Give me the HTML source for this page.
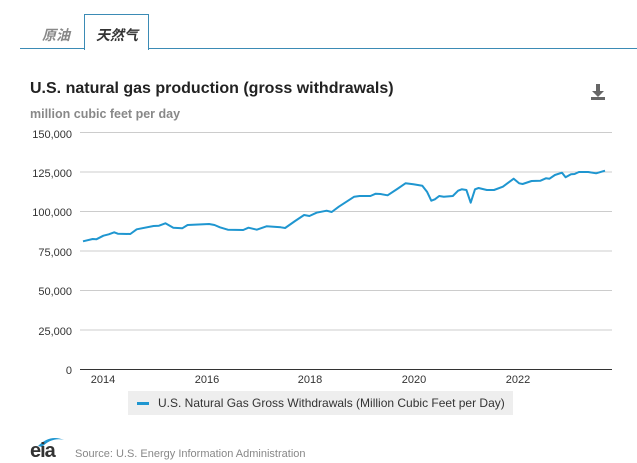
<!DOCTYPE html>
<html><head><meta charset="utf-8"><style>
body{margin:0;width:637px;height:462px;background:#fff;font-family:"Liberation Sans","Noto Sans CJK SC",sans-serif;position:relative;overflow:hidden}
.a{position:absolute;white-space:nowrap}
</style></head><body>
<div class="a" style="left:20px;top:48px;width:617px;height:1px;background:#3b8bb5"></div>
<div class="a" style="left:84px;top:14px;width:63px;height:35px;border:1px solid #3b8bb5;border-bottom:none;background:#fff"></div>
<div class="a" style="left:42px;top:25px;font-size:14px;font-style:italic;font-weight:bold;color:#888">原油</div>
<div class="a" style="left:96px;top:25px;font-size:14px;font-style:italic;font-weight:bold;color:#333">天然气</div>
<div class="a" style="left:30px;top:80px;font-size:16px;font-weight:bold;color:#222">U.S. natural gas production (gross withdrawals)</div>
<div class="a" style="left:30px;top:107px;font-size:12.5px;font-weight:bold;color:#888">million cubic feet per day</div>
<svg class="a" style="left:588px;top:83px" width="22" height="20"><rect x="8" y="1" width="4" height="8" fill="#666"/><polygon points="4,8 16,8 10,14" fill="#666"/><rect x="3" y="14" width="14" height="3" fill="#666"/></svg>
<svg class="a" style="left:0;top:0" width="637" height="462">
<g stroke="#ccc" stroke-width="1">
<line x1="80" x2="612" y1="132.5" y2="132.5"/><line x1="80" x2="612" y1="172" y2="172"/><line x1="80" x2="612" y1="211.5" y2="211.5"/><line x1="80" x2="612" y1="251" y2="251"/><line x1="80" x2="612" y1="290.5" y2="290.5"/><line x1="80" x2="612" y1="330" y2="330"/></g>
<line x1="80" x2="612" y1="369.5" y2="369.5" stroke="#333"/>
<g font-size="11" fill="#333" text-anchor="end" font-family="Liberation Sans">
<text x="72" y="138">150,000</text><text x="72" y="177">125,000</text><text x="72" y="216">100,000</text><text x="72" y="256">75,000</text><text x="72" y="295">50,000</text><text x="72" y="335">25,000</text><text x="72" y="374">0</text></g>
<g font-size="11" fill="#333" text-anchor="middle" font-family="Liberation Sans">
<text x="103" y="383">2014</text><text x="207" y="383">2016</text><text x="310" y="383">2018</text><text x="414" y="383">2020</text><text x="518" y="383">2022</text></g>
<polyline fill="none" stroke="#1f96d0" stroke-width="2" stroke-linejoin="round" points="83,241.3 92.7,239 96.3,239.3 103.4,235.7 108.8,234.3 114.2,232.3 117.8,233.7 130.3,234 136.7,229.3 153.6,226 159,225.7 165.4,223.3 173.3,227.7 182.2,228.3 187.6,225 209.1,224 214.5,225 219.9,227.3 227.8,229.7 243.2,230 248.5,227.7 256.8,229.7 266.5,226.3 280.8,227.3 285.1,228 295.1,221 304.1,215 309.4,216 316.6,212.7 326.6,210.7 331.7,212 338.8,206.7 354.2,196.7 359.6,196 370.4,196 375.7,193.7 380.4,194 387.6,195.3 397.2,189 405.5,183.3 413.4,184.3 422.3,185.7 427,191.7 431.3,200.7 434.9,199.3 439.2,196 443.8,196.7 452.8,196 458.1,190.7 461.7,189.3 466.4,190 470.7,202.7 475,189.3 478.6,188 486.8,190 494,190 502.9,186.7 513.7,178.7 519.1,183.3 522.6,184 531.6,181 540.5,180.7 545.9,178.3 549.5,178.7 554.9,175 562,172.7 565.6,177.3 571,174.3 574.6,174 578.9,172 588.2,172 596.1,173.3 605,170.7"/>
</svg>
<div class="a" style="left:128px;top:391px;width:385px;height:24px;background:#eee"></div>
<div class="a" style="left:137px;top:402px;width:12px;height:3px;background:#1f96d0"></div>
<div class="a" style="left:158px;top:396px;font-size:12px;color:#333">U.S. Natural Gas Gross Withdrawals (Million Cubic Feet per Day)</div>
<svg class="a" style="left:28px;top:434px" width="40" height="28"><path d="M10 12 Q22 0 36 6 Q24 3 14 13Z" fill="#1f96d0"/></svg>
<div class="a" style="left:30px;top:440px;font-size:20px;font-weight:bold;color:#333;letter-spacing:-1px">eia</div>
<div class="a" style="left:75px;top:448px;font-size:11px;color:#888">Source: U.S. Energy Information Administration</div>
</body></html>
